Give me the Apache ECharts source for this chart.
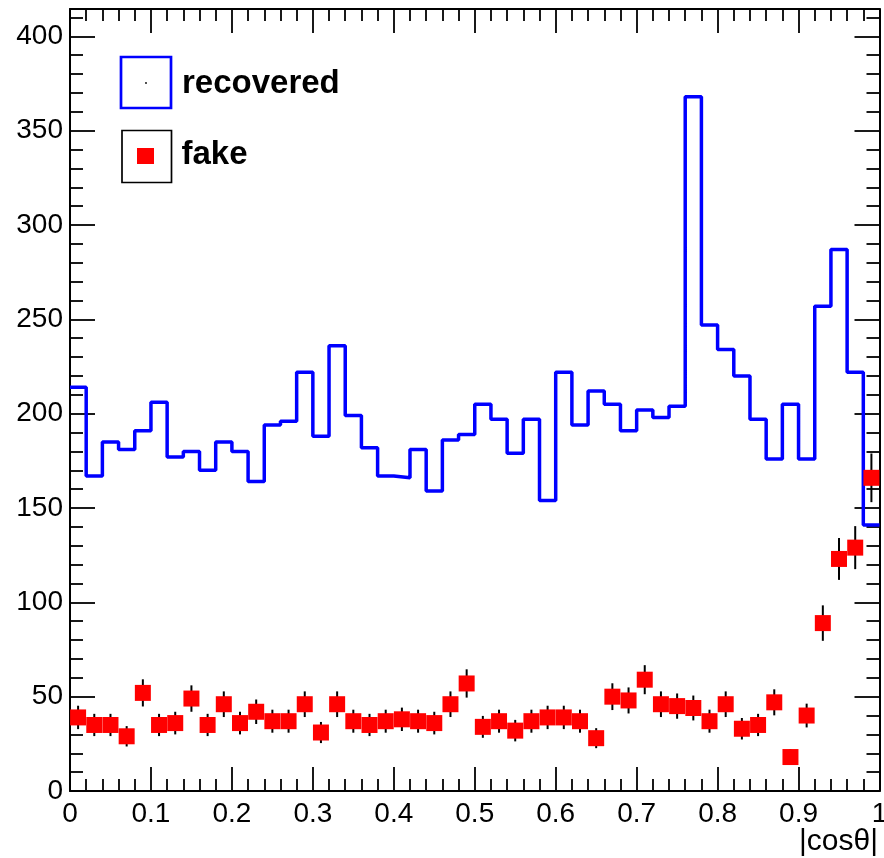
<!DOCTYPE html>
<html>
<head>
<meta charset="utf-8">
<script src="https://cdn.jsdelivr.net/npm/echarts@6/dist/echarts.min.js"></script>
<style>
  html, body { margin: 0; padding: 0; background: #ffffff; }
  #chart { width: 884px; height: 858px; }
</style>
</head>
<body>
<div id="chart"></div>
<script>
// Bin edges of |cos(theta)| (50 bins of width 0.02)
const binEdges = [
  0.00, 0.02, 0.04, 0.06, 0.08, 0.10, 0.12, 0.14, 0.16, 0.18,
  0.20, 0.22, 0.24, 0.26, 0.28, 0.30, 0.32, 0.34, 0.36, 0.38,
  0.40, 0.42, 0.44, 0.46, 0.48, 0.50, 0.52, 0.54, 0.56, 0.58,
  0.60, 0.62, 0.64, 0.66, 0.68, 0.70, 0.72, 0.74, 0.76, 0.78,
  0.80, 0.82, 0.84, 0.86, 0.88, 0.90, 0.92, 0.94, 0.96, 0.98,
  1.00
];

// Recovered counts per bin
const recovered = [
  214, 167, 185, 181, 191, 206, 177, 180, 170, 185,
  180, 164, 194, 196, 222, 188, 236, 199, 182, 167,
  166, 181, 159, 186, 189, 205, 197, 179, 197, 154,
  222, 194, 212, 205, 191, 202, 198, 204, 368, 247,
  234, 220, 197, 176, 205, 176, 257, 287, 222, 141
];

// Fake counts per bin
const fake = [
   39,  35,  35,  29,  52,  35,  36,  49,  35,  46,
   36,  42,  37,  37,  46,  31,  46,  37,  35,  37,
   38,  37,  36,  46,  57,  34,  37,  32,  37,  39,
   39,  37,  28,  50,  48,  59,  46,  45,  44,  37,
   46,  33,  35,  47,  18,  40,  89, 123, 129, 166
];

// Statistical uncertainty on the fake counts
const fakeErr = [
  6.2, 5.9, 5.9, 5.4, 7.2, 5.9, 6.0, 7.0, 5.9, 6.8,
  6.0, 6.5, 6.1, 6.1, 6.8, 5.6, 6.8, 6.1, 5.9, 6.1,
  6.2, 6.1, 6.0, 6.8, 7.5, 5.8, 6.1, 5.7, 6.1, 6.2,
  6.2, 6.1, 5.3, 7.1, 6.9, 7.7, 6.8, 6.7, 6.6, 6.1,
  6.8, 5.7, 5.9, 6.9, 4.2, 6.3, 9.4, 11.1, 11.4, 12.9
];

const seriesNames = ['recovered', 'fake'];
const xTitle = '|cos\u03B8|';
const yMax = 414.5;

const FONT = '"Liberation Sans", Arial, Helvetica, sans-serif';

const nBins = recovered.length;
const binCenters = [];
for (let i = 0; i < nBins; i++) binCenters.push((binEdges[i] + binEdges[i + 1]) / 2);

// Histogram outline: one point per lower edge, closed at the upper edge
const recoveredSteps = [];
for (let i = 0; i < nBins; i++) recoveredSteps.push([binEdges[i], recovered[i]]);
recoveredSteps.push([binEdges[nBins], recovered[nBins - 1]]);

const fakePoints = fake.map((v, i) => [binCenters[i], v]);
const fakeBars = fake.map((v, i) => [binCenters[i], v, fakeErr[i]]);

const tickStyle = { color: '#000', width: 1.8 };
const axisLineStyle = { color: '#000', width: 2 };

function xAxisCfg(pos, showLabels) {
  return {
    type: 'value', position: pos, min: 0, max: 1, interval: 0.1,
    axisLine: { show: true, onZero: false, lineStyle: axisLineStyle },
    axisTick: { show: true, inside: true, length: 24, lineStyle: tickStyle },
    minorTick: { show: true, splitNumber: 5, length: 12, lineStyle: tickStyle },
    splitLine: { show: false }, minorSplitLine: { show: false },
    axisLabel: {
      show: showLabels, margin: 9, color: '#000', fontFamily: FONT, fontSize: 28,
      showMinLabel: true, showMaxLabel: true,
      formatter: v => String(Math.round(v * 10) / 10)
    }
  };
}

function yAxisCfg(pos, showLabels) {
  return {
    type: 'value', position: pos, min: 0, max: yMax, interval: 50,
    axisLine: { show: true, onZero: false, lineStyle: axisLineStyle },
    axisTick: { show: true, inside: true, length: 25, lineStyle: tickStyle },
    minorTick: { show: true, splitNumber: 5, length: 13, lineStyle: tickStyle },
    splitLine: { show: false }, minorSplitLine: { show: false },
    axisLabel: {
      show: showLabels, margin: 7, color: '#000', fontFamily: FONT, fontSize: 28,
      showMaxLabel: false,
      formatter: v => (Math.abs(v % 50) < 1e-6 ? String(v) : '')
    }
  };
}

const chart = echarts.init(document.getElementById('chart'), null, { renderer: 'canvas' });

chart.setOption({
  animation: false,
  backgroundColor: '#ffffff',
  grid: { left: 70, right: 4.5, top: 9, bottom: 67, containLabel: false, outerBoundsMode: 'none' },
  xAxis: [xAxisCfg('bottom', true), xAxisCfg('top', false)],
  yAxis: [yAxisCfg('left', true), yAxisCfg('right', false)],
  series: [
    {
      name: seriesNames[0], type: 'line', step: 'end',
      data: recoveredSteps, showSymbol: false, symbol: 'none',
      lineStyle: { color: '#0000ff', width: 3.5 },
      z: 2, silent: true
    },
    {
      name: seriesNames[1] + ' errors', type: 'custom',
      data: fakeBars, encode: { x: 0, y: 1 },
      renderItem: function (params, api) {
        const x = api.value(0), y = api.value(1), e = api.value(2);
        const p1 = api.coord([x, y - e]);
        const p2 = api.coord([x, y + e]);
        return {
          type: 'line',
          shape: { x1: p1[0], y1: p1[1], x2: p2[0], y2: p2[1] },
          style: { stroke: '#000', lineWidth: 2 }
        };
      },
      z: 3, silent: true
    },
    {
      name: seriesNames[1], type: 'scatter',
      data: fakePoints, symbol: 'rect', symbolSize: 16,
      itemStyle: { color: '#ff0000', opacity: 1 },
      z: 4, silent: true
    }
  ],
  graphic: [
    // legend entry: recovered
    { type: 'rect', shape: { x: 121, y: 57, width: 50, height: 51 },
      style: { fill: 'none', stroke: '#0000ff', lineWidth: 2.7 }, z: 10 },
    { type: 'circle', shape: { cx: 146, cy: 83, r: 0.9 }, style: { fill: '#000' }, z: 10 },
    { type: 'text', x: 182, y: 84,
      style: { text: seriesNames[0], font: 'bold 33px ' + FONT, fill: '#000',
               textAlign: 'left', textVerticalAlign: 'middle' }, z: 10 },
    // legend entry: fake
    { type: 'rect', shape: { x: 122, y: 130.5, width: 49.5, height: 52 },
      style: { fill: 'none', stroke: '#000', lineWidth: 1.7 }, z: 10 },
    { type: 'rect', shape: { x: 137, y: 148, width: 17, height: 16 },
      style: { fill: '#ff0000' }, z: 10 },
    { type: 'text', x: 181.5, y: 155,
      style: { text: seriesNames[1], font: 'bold 33px ' + FONT, fill: '#000',
               textAlign: 'left', textVerticalAlign: 'middle' }, z: 10 },
    // x-axis title
    { type: 'text', x: 878, y: 842,
      style: { text: xTitle, font: '30px ' + FONT, fill: '#000',
               textAlign: 'right', textVerticalAlign: 'middle' }, z: 10 }
  ]
});
</script>
</body>
</html>
